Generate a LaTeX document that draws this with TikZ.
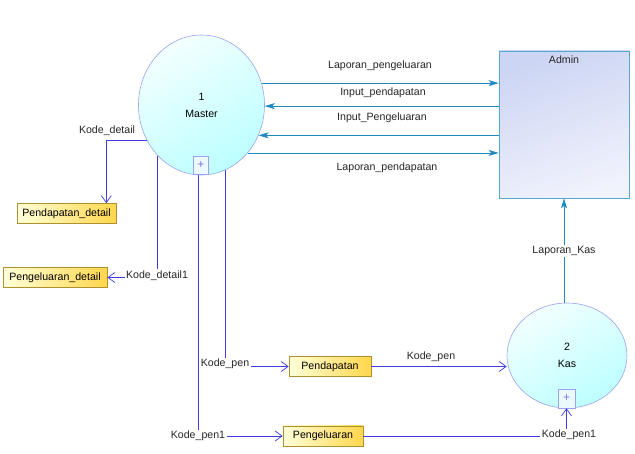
\documentclass[tikz,border=0pt]{standalone}
\usepackage{fontspec}
\setmainfont{Liberation Sans}
\usetikzlibrary{arrows.meta,shapes.geometric}
\definecolor{flowteal}{HTML}{1F8AC2}
\definecolor{flowblue}{HTML}{3E3EE0}
\definecolor{procborder}{HTML}{9CA2EE}
\definecolor{admborder}{HTML}{5AA6CC}
\definecolor{storeborder}{HTML}{B0902C}
\definecolor{admtop}{HTML}{CCD5F3}
\definecolor{admbot}{HTML}{F0F2FC}
\tikzset{
  lbl/.style={font=\fontsize{10.6}{12}\selectfont, inner sep=1pt, text=black!85},
  cornerlbl/.style={lbl, fill=white, inner sep=1.5pt},
  process/.style={ellipse, draw=procborder, line width=0.6pt, inner sep=0pt,
    top color=cyan!5, bottom color=cyan!26, shading angle=30,
    font=\fontsize{10.6}{17}\selectfont, align=center},
  plusbox/.style={draw=procborder, line width=0.6pt, fill=cyan!8, minimum width=15pt,
    minimum height=18pt, inner sep=0pt, text=flowblue!70, font=\fontsize{12}{12}\selectfont},
  entity/.style={rectangle, draw=admborder, line width=0.7pt, inner sep=0pt,
    top color=admtop, bottom color=admbot, shading angle=20},
  store/.style={rectangle, draw=storeborder, line width=0.6pt, inner sep=2pt,
    left color=yellow!15, right color=orange!45!yellow!70, minimum height=20pt,
    font=\fontsize{10.6}{12}\selectfont},
  tealflow/.style={draw=flowteal, line width=0.7pt, -{Stealth[length=10pt,width=6pt,inset=2.5pt]}},
  blueflow/.style={draw=flowblue, line width=0.7pt, -{Straight Barb[length=7pt,width=10pt]}},
  blueline/.style={draw=flowblue, line width=0.7pt}
}
\begin{document}
\begin{tikzpicture}[x=1pt,y=-1pt]
\useasboundingbox (0,0) rectangle (635,454);
\fill[white] (0,0) rectangle (635,454);

% processes
\node[process, minimum width=126pt, minimum height=140pt] (master) at (201.5,105) {1\\Master};
\node[plusbox] (mplus) at (201,165.5) {+};
\node[process, minimum width=120pt, minimum height=105pt] (kas) at (567,355.5) {2\\Kas};
\node[plusbox, minimum width=17pt, minimum height=19pt] (kplus) at (566.5,398.5) {+};

% entity
\node[entity, minimum width=130pt, minimum height=147pt] (admin) at (564,124.5) {};
\node[lbl, anchor=north] (admlbl) at ([yshift=-4pt]admin.north) {Admin};

% stores
\node[store, minimum width=99pt] (pdet) at (66.5,213.5) {Pendapatan\_detail};
\node[store, minimum width=104pt] (gdet) at (55,277.5) {Pengeluaran\_detail};
\node[store, minimum width=82pt] (pend) at (330,366.5) {Pendapatan};
\node[store, minimum width=80pt] (peng) at (323,436) {Pengeluaran};

% master <-> admin
\draw[tealflow] (master.20.2) -- (master.20.2 -| admin.west);
\node[lbl] (l1) at (380,66) {Laporan\_pengeluaran};
\draw[tealflow] (master.-1 -| admin.west) -- (master.-1);
\node[lbl] (l2) at (383,93) {Input\_pendapatan};
\draw[tealflow] (master.-28.8 -| admin.west) -- (master.-28.8);
\node[lbl] (l3) at (382,118) {Input\_Pengeluaran};
\draw[tealflow] (master.-46.3) -- (master.-46.3 -| admin.west);
\node[lbl] (l4) at (387,168) {Laporan\_pendapatan};

% kas -> admin
\draw[tealflow] (admin.south |- kas.north) -- (admin.south);
\node[cornerlbl] (lk) at (564,251) {Laporan\_Kas};

% master -> detail stores
\draw[blueflow] (master.213.7) -| ([xshift=-10pt]pdet.north east);
\node[lbl] (kd) at (107,131) {Kode\_detail};
\draw[blueflow] (master.229.3) |- (gdet.east);
\node[cornerlbl] (kd1) at (157,275.5) {Kode\_detail1};

% master -> pendapatan / pengeluaran
\draw[blueflow] (master.-70.1) |- (pend.west);
\node[cornerlbl] (kp) at (225,364) {Kode\_pen};
\draw[blueflow] ([xshift=-3pt]mplus.south) |- (peng.west);
\node[cornerlbl] (kp1) at (198,436) {Kode\_pen1};

% stores -> kas
\draw[blueflow] (pend.east) -- (pend.east -| kas.west);
\node[lbl] (kp2) at (431,357) {Kode\_pen};
\draw[blueflow] (peng.east) -| (kplus.south);
\node[cornerlbl] (kp3) at (569,435) {Kode\_pen1};
\end{tikzpicture}
\end{document}
